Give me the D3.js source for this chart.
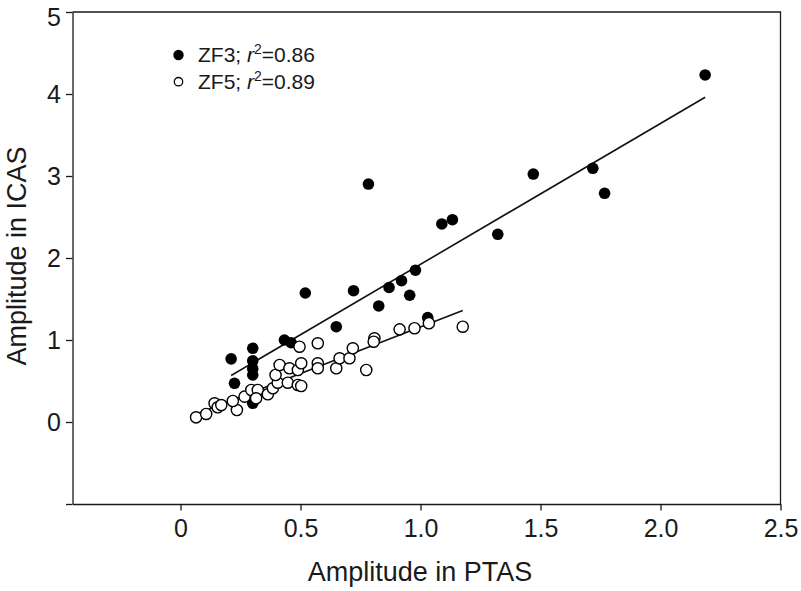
<!DOCTYPE html>
<html>
<head>
<meta charset="utf-8">
<script src="https://cdn.jsdelivr.net/npm/d3@7"></script>
<style>
  html, body { margin: 0; padding: 0; background: #fff; }
  svg { display: block; font-family: "Liberation Sans", Arial, sans-serif; }
</style>
</head>
<body>
<svg id="chart" width="801" height="591"></svg>
<script>
// ---- data ----
const zf3X = [0.211, 0.225, 0.301, 0.301, 0.301, 0.301, 0.301, 0.433, 0.461, 0.520, 0.649, 0.721, 0.783, 0.826, 0.869, 0.921, 0.955, 0.979, 1.030, 1.089, 1.133, 1.322, 1.470, 1.718, 1.767, 2.186];
const zf3Y = [0.770, 0.472, 0.899, 0.745, 0.650, 0.573, 0.228, 1.000, 0.967, 1.573, 1.162, 1.601, 2.902, 1.415, 1.640, 1.723, 1.546, 1.851, 1.274, 2.415, 2.467, 2.289, 3.024, 3.094, 2.789, 4.232];
const zf5X = [0.065, 0.107, 0.142, 0.155, 0.170, 0.235, 0.218, 0.267, 0.295, 0.322, 0.315, 0.364, 0.385, 0.405, 0.396, 0.413, 0.454, 0.489, 0.447, 0.489, 0.503, 0.503, 0.572, 0.496, 0.572, 0.572, 0.649, 0.663, 0.704, 0.718, 0.774, 0.808, 0.805, 0.913, 0.975, 1.035, 1.176];
const zf5Y = [0.057, 0.098, 0.228, 0.179, 0.207, 0.146, 0.256, 0.309, 0.390, 0.390, 0.289, 0.338, 0.411, 0.479, 0.573, 0.695, 0.655, 0.634, 0.479, 0.451, 0.439, 0.716, 0.960, 0.918, 0.716, 0.655, 0.655, 0.777, 0.777, 0.899, 0.634, 1.021, 0.979, 1.130, 1.143, 1.204, 1.162];
// regression lines: [intercept, slope]
const fitZF3 = [0.205, 1.718];
const fitZF5 = [0.020, 1.140];
const xTicks = [0, 0.5, 1.0, 1.5, 2.0, 2.5];
const xTickLabels = ["0", "0.5", "1.0", "1.5", "2.0", "2.5"];
const yTicks = [-1, 0, 1, 2, 3, 4, 5];
const yTickLabels = ["", "0", "1", "2", "3", "4", "5"];
const legendLabels = ["ZF3", "ZF5"];
const legendR2 = ["0.86", "0.89"];

// ---- drawing ----
const svg = d3.select("#chart");
const x = d3.scaleLinear().domain([-0.45, 2.5]).range([72.5, 780.5]);
const y = d3.scaleLinear().domain([-1, 5]).range([504, 12]);

// frame (top & right)
svg.append("path")
  .attr("d", `M${x(-0.45)},${y(5)}H${x(2.5)}V${y(-1)}`)
  .attr("fill", "none").attr("stroke", "#1a1a1a").attr("stroke-width", 1.3);

const xAxis = d3.axisBottom(x).tickValues(xTicks)
  .tickFormat((d, i) => xTickLabels[i]).tickSize(6.5).tickSizeOuter(0).tickPadding(9);
const gx = svg.append("g").attr("transform", `translate(0,${y(-1)})`).call(xAxis);

const yAxis = d3.axisLeft(y).tickValues(yTicks)
  .tickFormat((d, i) => yTickLabels[i]).tickSize(6.5).tickSizeOuter(0).tickPadding(5);
const gy = svg.append("g").attr("transform", `translate(${x(-0.45)},0)`).call(yAxis);

[gx, gy].forEach(g => {
  g.selectAll("path, line").attr("stroke", "#1a1a1a").attr("stroke-width", 1.3);
  g.selectAll("text").attr("fill", "#1a1a1a").style("font-size", "25px")
    .style("font-family", '"Liberation Sans", Arial, sans-serif');
});
gy.selectAll(".tick text").attr("dy", "0.34em");
gy.selectAll(".tick").filter(d => d === 5).select("text").attr("dy", "0.55em");

// axis titles
svg.append("text").attr("x", 420).attr("y", 581).attr("text-anchor", "middle")
  .style("font-size", "27px").attr("fill", "#1a1a1a").text("Amplitude in PTAS");
svg.append("text").attr("transform", "rotate(-90)").attr("x", -256).attr("y", 26)
  .attr("text-anchor", "middle").style("font-size", "27px").attr("fill", "#1a1a1a")
  .text("Amplitude in ICAS");

// regression lines
function fitLine(xs, fit) {
  const x0 = d3.min(xs), x1 = d3.max(xs);
  return [[x0, fit[0] + fit[1] * x0], [x1, fit[0] + fit[1] * x1]];
}
const line = d3.line().x(d => x(d[0])).y(d => y(d[1]));
svg.append("path").datum(fitLine(zf3X, fitZF3)).attr("d", line)
  .attr("fill", "none").attr("stroke", "#111").attr("stroke-width", 1.6);
svg.append("path").datum(fitLine(zf5X, fitZF5)).attr("d", line)
  .attr("fill", "none").attr("stroke", "#111").attr("stroke-width", 1.6);

// points
const zf3 = zf3X.map((v, i) => ({ x: v, y: zf3Y[i] }));
const zf5 = zf5X.map((v, i) => ({ x: v, y: zf5Y[i] }));
svg.append("g").selectAll("circle").data(zf3).join("circle")
  .attr("cx", d => x(d.x)).attr("cy", d => y(d.y)).attr("r", 5.8)
  .attr("fill", "#000");
svg.append("g").selectAll("circle").data(zf5).join("circle")
  .attr("cx", d => x(d.x)).attr("cy", d => y(d.y)).attr("r", 5.6)
  .attr("fill", "#fff").attr("stroke", "#000").attr("stroke-width", 1.4);

// legend
const leg = svg.append("g");
const legY = [55, 81.7];
leg.append("circle").attr("cx", 178.5).attr("cy", legY[0]).attr("r", 5.2).attr("fill", "#000");
leg.append("circle").attr("cx", 178.5).attr("cy", legY[1]).attr("r", 4.2)
  .attr("fill", "#fff").attr("stroke", "#000").attr("stroke-width", 1.3);
legendLabels.forEach((lab, i) => {
  const t = leg.append("text").attr("x", 198).attr("y", legY[i] + 7.4)
    .style("font-size", "21px").attr("fill", "#1a1a1a");
  t.append("tspan").text(lab + "; ");
  t.append("tspan").style("font-style", "italic").text("r");
  t.append("tspan").attr("dy", -8.5).style("font-size", "14px").text("2");
  t.append("tspan").attr("dy", 8.5).text("=" + legendR2[i]);
});
</script>
</body>
</html>
